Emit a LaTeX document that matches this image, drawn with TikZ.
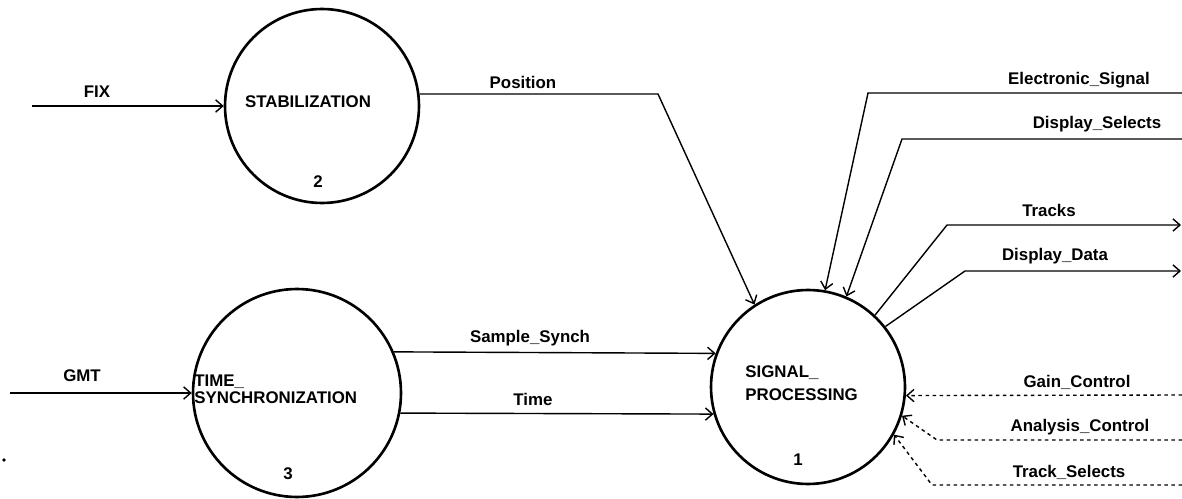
\documentclass[tikz,border=0pt]{standalone}
\usepackage{fontspec}
\setmainfont{Liberation Sans}
\usepackage{tikz}
\usetikzlibrary{arrows.meta, positioning, calc}

\begin{document}
\begin{tikzpicture}[x=0.02cm, y=-0.02cm]
    \tikzstyle{proc}=[circle, draw=black, line width=1.5pt, inner sep=0pt]
    \tikzstyle{lbl}=[inner sep=0pt, font=\fontsize{9.6}{11}\selectfont\bfseries]
    \tikzstyle{arr}=[-{Straight Barb[length=4pt, width=7pt]}, line width=0.8pt]
    \tikzstyle{ctrl}=[arr, dash pattern=on 2pt off 2pt]

    \useasboundingbox (0,0) rectangle (1182,499);

    % processes
    \node[proc, minimum size=3.88cm] (stab)  at (322,106) {};
    \node[proc, minimum size=4.16cm] (tsync) at (297,393) {};
    \node[proc, minimum size=3.88cm] (sig)   at (808,387) {};

    \node[lbl] (stabT) at (308,102) {STABILIZATION};
    \node[lbl] (stabN) at (318,182) {2};
    \node[lbl, align=left, anchor=west] (tsyncT) at (194,389.5) {TIME\_\\[-1.4pt]SYNCHRONIZATION};
    \node[lbl] (tsyncN) at (288,474) {3};
    \node[lbl, align=left, anchor=west] (sigT) at (745,383.5) {SIGNAL\_\\[2pt]PROCESSING};
    \node[lbl] (sigN) at (798,460) {1};

    % free ends and bends
    \coordinate (fixL) at (32,106);
    \coordinate (gmtL) at (10,393);
    \coordinate (posB) at (658,94);
    \coordinate (esR) at (1182,93);  \coordinate (esB) at (868,93);
    \coordinate (dsR) at (1182,139); \coordinate (dsB) at (902,139);
    \coordinate (trB) at (947,225);  \coordinate (trR) at (1181,225);
    \coordinate (ddB) at (965,271);  \coordinate (ddR) at (1181,271);
    \coordinate (gcR) at (1182,395);
    \coordinate (acR) at (1182,440); \coordinate (acB) at (937,440);
    \coordinate (tsR) at (1182,485); \coordinate (tsB) at (932,485);

    % flows
    \draw[arr] (fixL) -- (stab.west);
    \draw[arr] (gmtL) -- (tsync.west);
    \draw[arr] (stab.7) -- (posB) -- (sig.123);
    \draw[arr] (tsync.23) -- (sig.160);
    \draw[arr] (tsync.-11) -- (sig.196);
    \draw[arr] (esR) -- (esB) -- (sig.80);
    \draw[arr] (dsR) -- (dsB) -- (sig.67);
    \draw[arr] (sig.47) -- (trB) -- (trR);
    \draw[arr] (sig.38) -- (ddB) -- (ddR);
    \draw[ctrl] (gcR) -- (sig.-5);
    \draw[ctrl] (acR) -- (acB) -- (sig.-17);
    \draw[ctrl] (tsR) -- (tsB) -- (sig.-29);

    % flow labels
    \node[lbl] (fixT)  at (97,92)    {FIX};
    \node[lbl] (gmtT)  at (82,376)   {GMT};
    \node[lbl] (posT)  at (523,82)   {Position};
    \node[lbl] (smpT)  at (530,338)  {Sample\_Synch};
    \node[lbl] (timeT) at (533,399)  {Time};
    \node[lbl] (esT)   at (1079,80)  {Electronic\_Signal};
    \node[lbl] (dsT)   at (1097,124) {Display\_Selects};
    \node[lbl] (trT)   at (1049,210) {Tracks};
    \node[lbl] (ddT)   at (1055,256) {Display\_Data};
    \node[lbl] (gcT)   at (1077,382) {Gain\_Control};
    \node[lbl] (acT)   at (1080,427) {Analysis\_Control};
    \node[lbl] (tsT)   at (1069,472) {Track\_Selects};

    \fill (4,460) circle (1pt);
\end{tikzpicture}
\end{document}
